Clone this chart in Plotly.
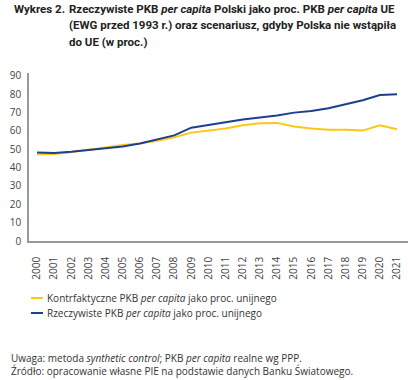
import plotly.graph_objects as go

years = list(range(2000, 2022))
kontrfaktyczne = [47.3, 47.5, 48.5, 49.6, 51.0, 52.3, 53.2, 54.6, 56.6, 59.1, 60.4, 61.3,
                  63.1, 64.2, 64.4, 62.4, 61.3, 60.7, 60.7, 60.2, 63.1, 60.9]
rzeczywiste = [48.3, 48.0, 48.6, 49.5, 50.5, 51.5, 53.2, 55.5, 57.6, 61.8, 63.1, 64.7,
               66.2, 67.3, 68.4, 70.0, 70.9, 72.4, 74.7, 76.7, 79.6, 80.0]
series_names = ["Kontrfaktyczne PKB <i>per capita</i> jako proc. unijnego",
                "Rzeczywiste PKB <i>per capita</i> jako proc. unijnego"]
y_ticks = [0, 10, 20, 30, 40, 50, 60, 70, 80, 90]

YELLOW = "#FFC616"
BLUE = "#1C3F8E"
FONT = "Open Sans"
TFONT = "Roboto"

fig = go.Figure()
fig.add_trace(go.Scatter(x=years, y=kontrfaktyczne, mode="lines", name=series_names[0],
                         line=dict(color=YELLOW, width=2), showlegend=False))
fig.add_trace(go.Scatter(x=years, y=rzeczywiste, mode="lines", name=series_names[1],
                         line=dict(color=BLUE, width=2), showlegend=False))

fig.update_layout(
    width=409, height=380,
    margin=dict(l=29, r=1, t=73, b=139),
    paper_bgcolor="white", plot_bgcolor="white",
    font=dict(family=FONT, color="#444", size=10),
    xaxis=dict(range=[1999.53, 2021.64], tickmode="array", tickvals=years,
               ticktext=[str(y) for y in years], tickangle=-90,
               showgrid=False, zeroline=False, showline=True, linecolor="#999",
               linewidth=1.5, ticks="", ticklabelstandoff=10, automargin=False,
               tickfont=dict(size=10, color="#444")),
    yaxis=dict(range=[0, 91.6], tickmode="array", tickvals=y_ticks,
               showgrid=False, zeroline=False, showline=True, linecolor="#999",
               linewidth=1.5, ticks="", ticklabelstandoff=4, automargin=False,
               tickfont=dict(size=10, color="#444")),
)

title_lines = ["Rzeczywiste PKB <i>per capita</i> Polski jako proc. PKB <i>per capita</i> UE",
               "(EWG przed 1993 r.) oraz scenariusz, gdyby Polska nie wstąpiła",
               "do UE (w proc.)"]


# convert pixel positions to paper coords (plot area: x 29..408, y 73..241)
def px(xp):
    return (xp - 29) / (409 - 30)


def py(yp):
    return (241 - yp) / (241 - 73)


annotations = []
shapes = []
annotations.append(dict(text="<b>Wykres 2.</b>", x=px(12), y=py(8.5), xref="paper", yref="paper",
                        xanchor="left", yanchor="middle", showarrow=False,
                        font=dict(size=11.5, color="#222", family=TFONT)))
for i, t in enumerate(title_lines):
    annotations.append(dict(text="<b>" + t + "</b>", x=px(67), y=py(8.5 + 16.7 * i),
                            xref="paper", yref="paper", xanchor="left", yanchor="middle",
                            showarrow=False, font=dict(size=11.5, color="#222", family=TFONT)))

legend_colors = [YELLOW, BLUE]
for i, (name, col) in enumerate(zip(series_names, legend_colors)):
    yy = 298 + 15 * i
    shapes.append(dict(type="line", xref="paper", yref="paper", x0=px(31), x1=px(43),
                       y0=py(yy), y1=py(yy), line=dict(color=col, width=2)))
    annotations.append(dict(text=name, x=px(45), y=py(yy), xref="paper", yref="paper",
                            xanchor="left", yanchor="middle", showarrow=False,
                            font=dict(size=10, color="#333", family=FONT)))

notes = ["Uwaga: metoda <i>synthetic control</i>; PKB <i>per capita</i> realne wg PPP.",
         "Źródło: opracowanie własne PIE na podstawie danych Banku Światowego."]
annotations.append(dict(text="<br>".join(notes), x=px(9), y=py(364), xref="paper", yref="paper",
                        xanchor="left", yanchor="middle", align="left", showarrow=False,
                        font=dict(size=10, color="#333", family=FONT)))

fig.update_layout(annotations=annotations, shapes=shapes)
fig.write_html("out.html", config={"displayModeBar": False},
               post_script="document.body.style.margin='0';")
